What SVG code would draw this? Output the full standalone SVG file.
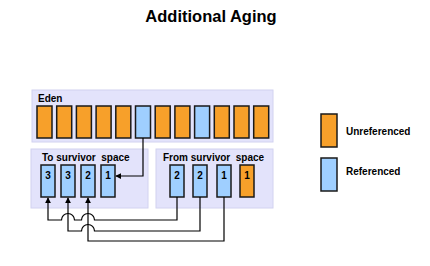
<svg xmlns="http://www.w3.org/2000/svg" width="430" height="266" viewBox="0 0 430 266">
<style>
.panel{fill:#E3E3FB;stroke:#D2D2F0;stroke-width:1}
.o{fill:#F7A02A;stroke:#1a1a1a;stroke-width:1.5}
.b{fill:#9FCFFF;stroke:#1a1a1a;stroke-width:1.5}
.lbl{font-family:"Liberation Sans",Arial,sans-serif;font-weight:bold;font-size:10px;fill:#000}
.num{font-family:"Liberation Sans",Arial,sans-serif;font-weight:bold;font-size:10px;fill:#000;text-anchor:middle}
.conn{fill:none;stroke:#000;stroke-width:1.2}
</style>
<defs>
<marker id="ah" viewBox="0 0 8 8" refX="7" refY="4" markerWidth="6" markerHeight="6" markerUnits="userSpaceOnUse" orient="auto">
<path d="M0,0 L8,4 L0,8 Z" fill="#000"/>
</marker>
</defs>
<rect width="430" height="266" fill="#fff"/>
<text x="211" y="22" text-anchor="middle" font-family="'Liberation Sans',Arial,sans-serif" font-weight="bold" font-size="16.5">Additional Aging</text>

<g id="eden">
<rect class="panel" x="32" y="90" width="241" height="52"/>
<text class="lbl" x="38" y="102">Eden</text>
<rect class="o" x="37" y="106" width="15" height="32"/>
<rect class="o" x="56.7" y="106" width="15" height="32"/>
<rect class="o" x="76.4" y="106" width="15" height="32"/>
<rect class="o" x="96.1" y="106" width="15" height="32"/>
<rect class="o" x="115.8" y="106" width="15" height="32"/>
<rect class="b" x="135.5" y="106" width="15" height="32"/>
<rect class="o" x="155.2" y="106" width="15" height="32"/>
<rect class="o" x="174.9" y="106" width="15" height="32"/>
<rect class="b" x="194.6" y="106" width="15" height="32"/>
<rect class="o" x="214.3" y="106" width="15" height="32"/>
<rect class="o" x="234" y="106" width="15" height="32"/>
<rect class="o" x="253.7" y="106" width="15" height="32"/>
</g>

<g id="to-survivor">
<rect class="panel" x="31" y="149" width="117" height="59"/>
<text class="lbl" x="42" y="161" xml:space="preserve">To survivor  space</text>
<rect class="b" x="41" y="165" width="14" height="32"/>
<text class="num" x="48" y="179">3</text>
<rect class="b" x="61" y="165" width="14" height="32"/>
<text class="num" x="68" y="179">3</text>
<rect class="b" x="81" y="165" width="14" height="32"/>
<text class="num" x="88" y="179">2</text>
<rect class="b" x="101" y="165" width="14" height="32"/>
<text class="num" x="108" y="179">1</text>
</g>

<g id="from-survivor">
<rect class="panel" x="156" y="149" width="117" height="59"/>
<text class="lbl" x="163" y="161" xml:space="preserve">From survivor  space</text>
<rect class="b" x="170" y="165" width="14" height="32"/>
<text class="num" x="177" y="179">2</text>
<rect class="b" x="193" y="165" width="14" height="32"/>
<text class="num" x="200" y="179">2</text>
<rect class="b" x="217" y="165" width="14" height="32"/>
<text class="num" x="224" y="179">1</text>
<rect class="o" x="240" y="165" width="14" height="32"/>
<text class="num" x="247" y="179">1</text>
</g>

<g id="legend-unreferenced">
<rect class="o" x="321" y="114" width="16" height="33"/>
<text class="lbl" x="346" y="135" font-size="9.5">Unreferenced</text>
</g>
<g id="legend-referenced">
<rect class="b" x="321" y="158" width="16" height="33"/>
<text class="lbl" x="346" y="175" font-size="9.5">Referenced</text>
</g>

<g id="connectors">
<path class="conn" d="M143,138 V176 H116" marker-end="url(#ah)"/>
<path class="conn" d="M177,197 V220 H94.5 A6.5,6.5 0 0 0 81.5,220 H74.5 A6.5,6.5 0 0 0 61.5,220 H48 V198" marker-end="url(#ah)"/>
<path class="conn" d="M200,197 V231 H94.5 A6.5,6.5 0 0 0 81.5,231 H68 V198" marker-end="url(#ah)"/>
<path class="conn" d="M224,197 V241 H88 V198" marker-end="url(#ah)"/>
</g>
</svg>
